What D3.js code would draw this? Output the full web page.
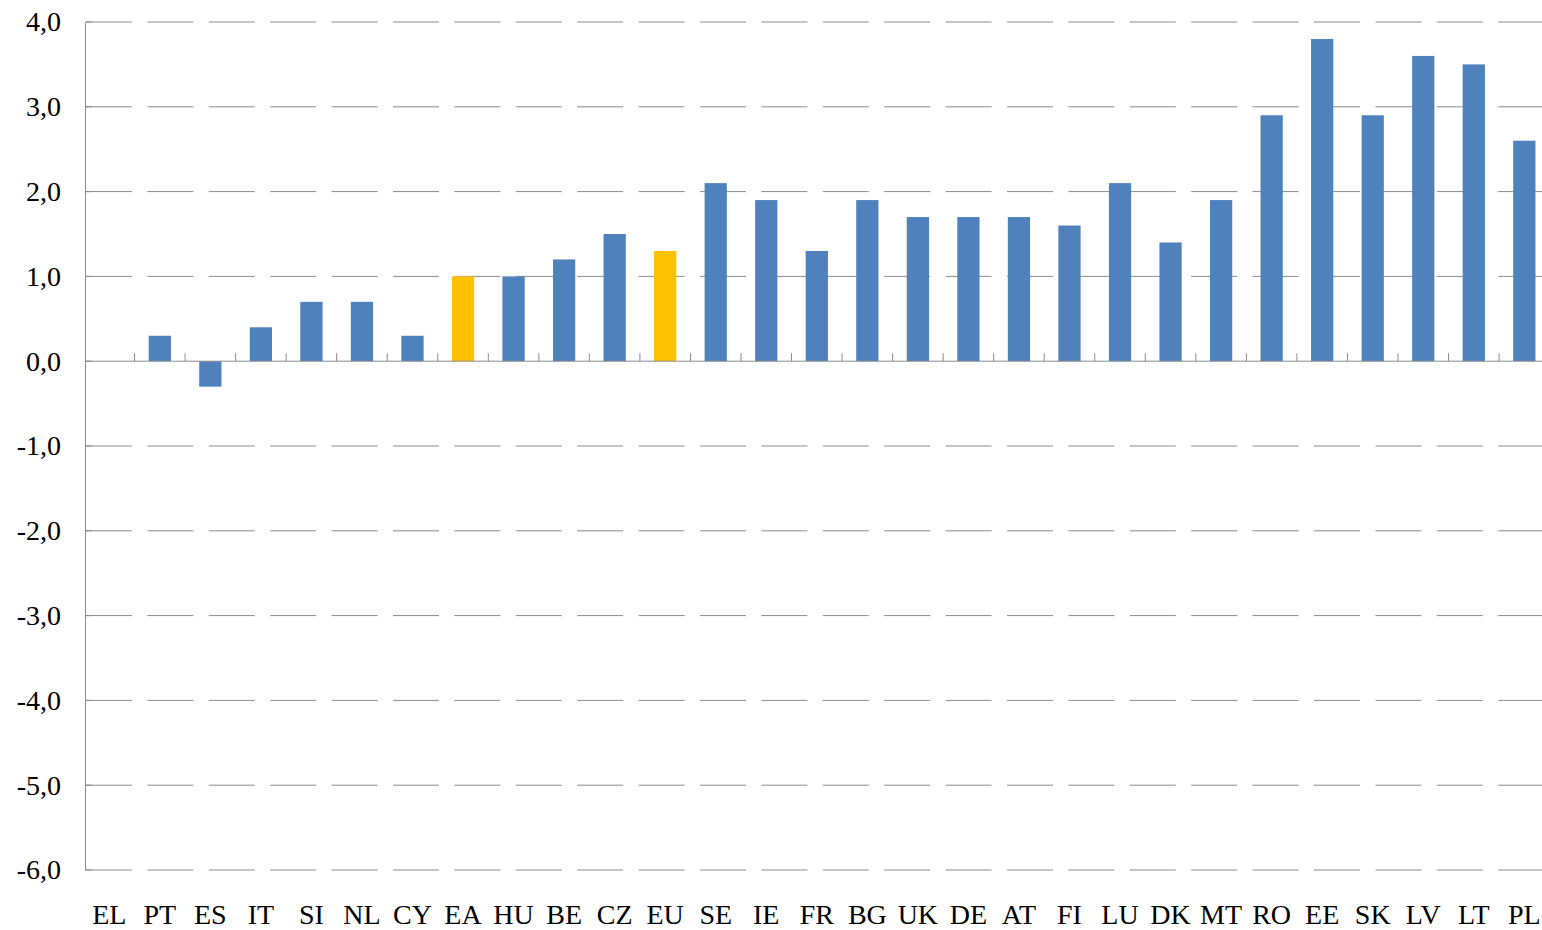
<!DOCTYPE html>
<html>
<head>
<meta charset="utf-8">
<script src="https://cdn.jsdelivr.net/npm/d3@7"></script>
<style>
    body { margin: 0; background: #fff; overflow: hidden; }
    svg text { font-family: "Liberation Serif", "Times New Roman", serif; fill: #000; }
</style>
</head>
<body>
<div id="chart"></div>
<script>
var countries = ["EL", "PT", "ES", "IT", "SI", "NL", "CY", "EA", "HU", "BE", "CZ", "EU", "SE", "IE",
    "FR", "BG", "UK", "DE", "AT", "FI", "LU", "DK", "MT", "RO", "EE", "SK", "LV", "LT", "PL"];
var values = [0, 0.3, -0.3, 0.4, 0.7, 0.7, 0.3, 1.0, 1.0, 1.2, 1.5, 1.3, 2.1, 1.9,
    1.3, 1.9, 1.7, 1.7, 1.7, 1.6, 2.1, 1.4, 1.9, 2.9, 3.8, 2.9, 3.6, 3.5, 2.6];
var highlighted = ["EA", "EU"];
var yTicks = [4, 3, 2, 1, 0, -1, -2, -3, -4, -5, -6];

function init() {
    var w = 1542;
    var h = 930;
    var left = 85, right = 1542, top = 22, bottom = 870;

    // the category axis runs a little past the right edge of the picture
    var xScale = d3.scaleBand()
        .domain(countries)
        .range([84, 1549.6])
        .paddingInner(0.56)
        .paddingOuter(0.28);

    var yScale = d3.scaleLinear()
        .domain([-6, 4])
        .range([bottom, top]);

    var svg = d3.select("#chart")
        .append("svg")
        .attr("width", w)
        .attr("height", h);

    // dashed gridlines
    svg.append("g")
        .selectAll("line")
        .data(yTicks.filter(function(d) { return d !== 0; }))
        .enter()
        .append("line")
        .attr("x1", left + 1)
        .attr("x2", right)
        .attr("y1", function(d) { return yScale(d); })
        .attr("y2", function(d) { return yScale(d); })
        .attr("stroke", "#8c8c8c")
        .attr("stroke-width", 1)
        .attr("stroke-dasharray", "46,15.4");

    // y axis
    var yAxis = d3.axisLeft(yScale)
        .tickValues(yTicks)
        .tickSize(0)
        .tickPadding(24)
        .tickFormat(function(d) { return d3.format(".1f")(d).replace(".", ",").replace("\u2212", "-"); });

    var gy = svg.append("g")
        .attr("transform", "translate(" + left + ",0)")
        .call(yAxis);
    gy.select(".domain").attr("stroke", "#8c8c8c");
    gy.selectAll("text")
        .style("font-size", "28px");

    // small inner ticks on the y axis
    svg.append("g")
        .selectAll("line")
        .data(yTicks)
        .enter()
        .append("line")
        .attr("x1", left)
        .attr("x2", left + 7)
        .attr("y1", function(d) { return yScale(d); })
        .attr("y2", function(d) { return yScale(d); })
        .attr("stroke", "#8c8c8c");

    // bars
    svg.append("g")
        .selectAll("rect")
        .data(countries)
        .enter()
        .append("rect")
        .attr("x", function(d) { return xScale(d); })
        .attr("width", xScale.bandwidth())
        .attr("y", function(d, i) { return yScale(Math.max(0, values[i])); })
        .attr("height", function(d, i) { return Math.abs(yScale(values[i]) - yScale(0)); })
        .style("fill", function(d) {
            return highlighted.indexOf(d) >= 0 ? "#ffc000" : "#4f81bd";
        });

    // zero axis with category ticks
    var step = xScale.step();
    var start = xScale.range()[0];
    var boundaries = d3.range(1, countries.length).map(function(i) { return start + step * i; });
    svg.append("line")
        .attr("x1", left)
        .attr("x2", right)
        .attr("y1", yScale(0))
        .attr("y2", yScale(0))
        .attr("stroke", "#8c8c8c");
    svg.append("g")
        .selectAll("line")
        .data(boundaries)
        .enter()
        .append("line")
        .attr("x1", function(d) { return d; })
        .attr("x2", function(d) { return d; })
        .attr("y1", yScale(0) - 8)
        .attr("y2", yScale(0))
        .attr("stroke", "#8c8c8c");

    // category labels at the bottom
    svg.append("g")
        .selectAll("text")
        .data(countries)
        .enter()
        .append("text")
        .attr("x", function(d) { return xScale(d) + xScale.bandwidth() / 2; })
        .attr("y", 924)
        .attr("text-anchor", "middle")
        .style("font-size", "28px")
        .text(function(d) { return d; });
}

window.onload = init;
</script>
</body>
</html>
